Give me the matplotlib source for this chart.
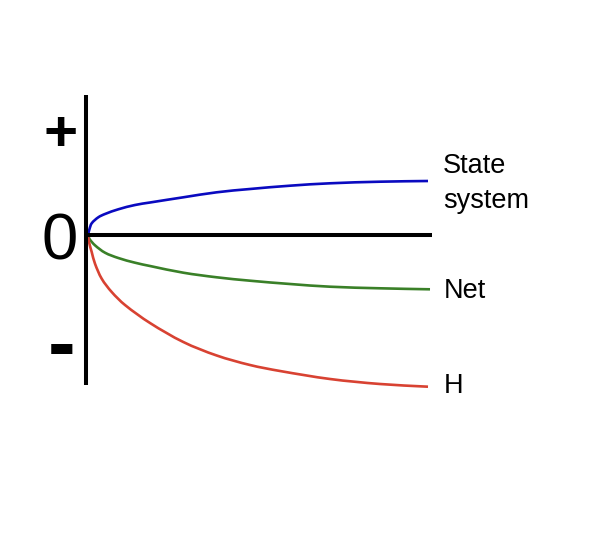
import matplotlib
matplotlib.use("Agg")
import matplotlib.pyplot as plt
import numpy as np
from matplotlib.path import Path
from matplotlib.patches import PathPatch

plt.rcParams['font.family'] = ['Liberation Sans', 'DejaVu Sans']

# Curve samples (x: time, y: change relative to 0)
state_x = [0, 1.5, 3.7, 10.3, 17, 30.3, 47, 62, 95.3, 128.7, 162, 202, 242, 292, 340]
state_y = [0, 6, 11.7, 17.7, 21, 25.7, 30, 32.5, 37.7, 42.7, 46, 49.3, 51.7, 53.3, 54]

net_x = [0, 1.5, 7, 17, 30.3, 47, 62, 95.3, 128.7, 162, 202, 242, 292, 342]
net_y = [0, -4, -10.3, -17.7, -23, -27.7, -31, -37.7, -42.3, -45.7, -49, -51.7, -53.3, -54.3]

h_x = [0, 1, 3.7, 7, 13.7, 23.7, 37, 62, 95.3, 128.7, 162, 192, 242, 292, 340]
h_y = [0, -7, -17, -28.7, -43.7, -57, -70, -88, -107, -120.5, -130, -136, -144, -149, -151.7]

labels = ["State", "system", "Net", "H"]
axis_labels = ["+", "0", "-"]


def smooth_path(xs, ys):
    """Cubic Bezier path passing through the sampled points (chord-length tangents)."""
    P = np.column_stack([xs, ys]).astype(float)
    d = np.sqrt(((P[1:] - P[:-1]) ** 2).sum(axis=1))
    t = np.concatenate([[0], np.cumsum(d)])
    n = len(P)
    M = np.zeros_like(P)
    M[0] = (P[1] - P[0]) / (t[1] - t[0])
    M[-1] = (P[-1] - P[-2]) / (t[-1] - t[-2])
    for i in range(1, n - 1):
        M[i] = (P[i + 1] - P[i - 1]) / (t[i + 1] - t[i - 1])
    verts = [P[0]]
    codes = [Path.MOVETO]
    for i in range(n - 1):
        h = t[i + 1] - t[i]
        verts += [P[i] + M[i] * h / 3, P[i + 1] - M[i + 1] * h / 3, P[i + 1]]
        codes += [Path.CURVE4] * 3
    return Path(verts, codes)


W, H = 611, 533
fig = plt.figure(figsize=(W / 100, H / 100), dpi=100)
ax = fig.add_axes([0, 0, 1, 1])
ax.set_xlim(-88, W - 88)
ax.set_ylim(235 - H, 235)
ax.axis('off')

# axes lines
ax.plot([-2.5, -2.5], [140, -150], color='black', lw=2.9, solid_capstyle='butt')
ax.plot([-3, 344], [0, 0], color='black', lw=2.9, solid_capstyle='butt')

for xs, ys, col in [(state_x, state_y, '#0a0ac0'),
                    (net_x, net_y, '#3a8028'),
                    (h_x, h_y, '#d84232')]:
    ax.add_patch(PathPatch(smooth_path(xs, ys), facecolor='none',
                           edgecolor=col, lw=1.9, capstyle='butt'))

fs = 19.5
ax.text(355, 61.7, labels[0], fontsize=fs, ha='left', va='baseline')
ax.text(355, 26.7, labels[1], fontsize=fs, ha='left', va='baseline')
ax.text(356, -63.3, labels[2], fontsize=fs, ha='left', va='baseline')
ax.text(356, -157.7, labels[3], fontsize=fs, ha='left', va='baseline')

ax.text(-27, 84, axis_labels[0], fontsize=42, fontweight='bold', ha='center', va='baseline')
ax.text(-28.5, -24, axis_labels[1], fontsize=47, ha='center', va='baseline')
ax.text(-26.5, -136, axis_labels[2], fontsize=60, fontweight='bold', ha='center', va='baseline')

fig.savefig('out.png', dpi=100)
